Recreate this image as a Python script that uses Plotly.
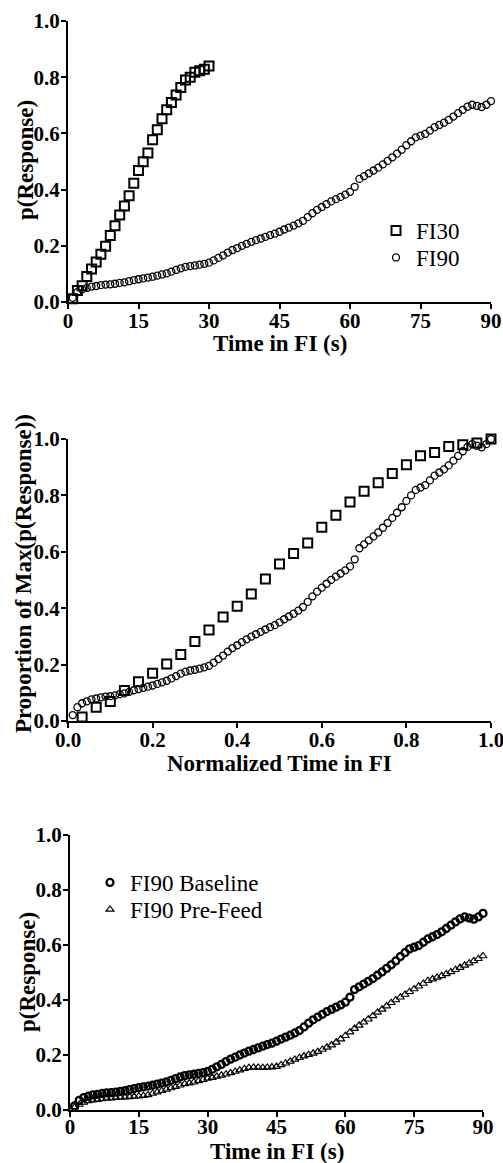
import plotly.graph_objects as go

# ---------------- data ----------------
t30 = list(range(1, 31))
fi30 = [0.012, 0.041, 0.058, 0.091, 0.117, 0.142, 0.170, 0.198, 0.237, 0.271,
        0.310, 0.342, 0.378, 0.423, 0.468, 0.499, 0.530, 0.577, 0.613, 0.652,
        0.684, 0.710, 0.737, 0.763, 0.790, 0.800, 0.818, 0.823, 0.828, 0.840]

t90 = list(range(1, 91))
fi90 = [0.015, 0.035, 0.045, 0.050, 0.055, 0.057, 0.060, 0.062, 0.063, 0.065,
        0.068, 0.070, 0.074, 0.078, 0.081, 0.084, 0.087, 0.090, 0.094, 0.098,
        0.102, 0.108, 0.114, 0.120, 0.125, 0.128, 0.130, 0.133, 0.136, 0.140,
        0.148, 0.157, 0.166, 0.176, 0.185, 0.192, 0.200, 0.207, 0.214, 0.220,
        0.226, 0.232, 0.238, 0.243, 0.250, 0.258, 0.265, 0.272, 0.280, 0.289,
        0.302, 0.316, 0.328, 0.338, 0.348, 0.358, 0.366, 0.374, 0.382, 0.392,
        0.410, 0.438, 0.448, 0.458, 0.468, 0.478, 0.490, 0.502, 0.515, 0.528,
        0.542, 0.558, 0.572, 0.586, 0.592, 0.598, 0.610, 0.622, 0.630, 0.638,
        0.648, 0.660, 0.672, 0.684, 0.695, 0.702, 0.698, 0.694, 0.702, 0.715]

prefeed = [0.010, 0.020, 0.028, 0.033, 0.036, 0.038, 0.040, 0.042, 0.043, 0.045,
           0.046, 0.047, 0.048, 0.049, 0.050, 0.052, 0.055, 0.060, 0.065, 0.070,
           0.075, 0.080, 0.085, 0.090, 0.095, 0.098, 0.101, 0.106, 0.110, 0.115,
           0.118, 0.122, 0.126, 0.130, 0.135, 0.140, 0.145, 0.150, 0.154, 0.155,
           0.155, 0.154, 0.155, 0.156, 0.158, 0.164, 0.170, 0.177, 0.184, 0.190,
           0.196, 0.201, 0.206, 0.212, 0.220, 0.228, 0.236, 0.246, 0.258, 0.270,
           0.283, 0.296, 0.308, 0.319, 0.330, 0.342, 0.355, 0.366, 0.378, 0.390,
           0.400, 0.410, 0.420, 0.430, 0.440, 0.450, 0.460, 0.470, 0.476, 0.482,
           0.488, 0.495, 0.502, 0.510, 0.518, 0.526, 0.534, 0.542, 0.550, 0.560]

sec_ticks = [0, 15, 30, 45, 60, 75, 90]
frac_ticks = [0.0, 0.2, 0.4, 0.6, 0.8, 1.0]

# normalized versions (middle panel)
n30_x = [t / 30 for t in t30]
n30_y = [v / max(fi30) for v in fi30]
n90_x = [t / 90 for t in t90]
n90_y = [v / max(fi90) for v in fi90]

# ---------------- figure ----------------
W, H = 503, 1163
FONT = "Liberation Serif, Times New Roman, serif"

def px_x(p):
    return p / W

def px_y(p):
    return (H - p) / H

fig = go.Figure()

# top panel
fig.add_trace(go.Scatter(x=t30, y=fi30, mode="markers", name="FI30",
                         marker=dict(symbol="square-open", size=9, color="black",
                                     line=dict(width=2, color="black")),
                         xaxis="x", yaxis="y", legend="legend", cliponaxis=False))
fig.add_trace(go.Scatter(x=t90, y=fi90, mode="markers", name="FI90",
                         marker=dict(symbol="circle-open", size=7, color="black",
                                     line=dict(width=1.3, color="black")),
                         xaxis="x", yaxis="y", legend="legend3", cliponaxis=False))
# middle panel
fig.add_trace(go.Scatter(x=n30_x, y=n30_y, mode="markers", showlegend=False,
                         marker=dict(symbol="square-open", size=9, color="black",
                                     line=dict(width=2, color="black")),
                         xaxis="x2", yaxis="y2", cliponaxis=False))
fig.add_trace(go.Scatter(x=n90_x, y=n90_y, mode="markers", showlegend=False,
                         marker=dict(symbol="circle-open", size=7, color="black",
                                     line=dict(width=1.3, color="black")),
                         xaxis="x2", yaxis="y2", cliponaxis=False))
# bottom panel
fig.add_trace(go.Scatter(x=t90, y=fi90, mode="markers", name="FI90 Baseline",
                         marker=dict(symbol="circle-open", size=7, color="black",
                                     line=dict(width=2.3, color="black")),
                         xaxis="x3", yaxis="y3", legend="legend2", cliponaxis=False))
fig.add_trace(go.Scatter(x=t90, y=prefeed, mode="markers", name="FI90 Pre-Feed",
                         marker=dict(symbol="triangle-up-open", size=7, color="black",
                                     line=dict(width=1.2, color="black")),
                         xaxis="x3", yaxis="y3", legend="legend4", cliponaxis=False))

tickfont = dict(family=FONT, size=21, color="black", weight="bold")

def axis(domain, rng, tickvals, fmt, anchor, standoff):
    return dict(domain=domain, range=rng, tickvals=tickvals, tickformat=fmt,
                showline=True, linecolor="black", linewidth=2,
                ticks="outside", ticklen=5, tickwidth=2, tickcolor="black",
                showgrid=False, zeroline=False, tickfont=tickfont,
                ticklabelstandoff=standoff, ticklabeloverflow="allow",
                anchor=anchor, automargin=False, fixedrange=True)

xd_top = [px_x(68), px_x(491)]
xd_bot = [px_x(70), px_x(483)]
yd_top = [px_y(302), px_y(21)]
yd_mid = [px_y(721), px_y(439)]
yd_bot = [px_y(1110), px_y(835)]

legfont = dict(family=FONT, size=23, color="black")

def leg(xp, row_center):
    return dict(x=px_x(xp), y=px_y(row_center - 22), xanchor="left", yanchor="top",
                font=legfont, bgcolor="rgba(0,0,0,0)", borderwidth=0,
                tracegroupgap=0)

fig.update_layout(
    width=W, height=H,
    margin=dict(l=0, r=0, t=0, b=0),
    paper_bgcolor="white", plot_bgcolor="white",
    xaxis=axis(xd_top, [0, 90], sec_ticks, "d", "y", -6),
    yaxis=axis(yd_top, [0, 1], frac_ticks, ".1f", "x", -3),
    xaxis2=axis(xd_top, [0, 1], frac_ticks, ".1f", "y2", -6),
    yaxis2=axis(yd_mid, [0, 1], frac_ticks, ".1f", "x2", -3),
    xaxis3=axis(xd_bot, [0, 90], sec_ticks, "d", "y3", -8),
    yaxis3=axis(yd_bot, [0, 1], frac_ticks, ".1f", "x3", -3),
    legend=leg(376, 231),
    legend3=leg(376, 258),
    legend2=leg(90, 883),
    legend4=leg(90, 910),
)

titlefont = dict(family=FONT, size=23, color="black", weight="bold")
annos = [
    ("Time in FI (s)", 279.5, 343, 0),
    ("p(Response)", 26, 160, -90),
    ("Normalized Time in FI", 279.5, 763, 0),
    ("Proportion of Max(p(Response))", 23, 574, -90),
    ("Time in FI (s)", 276.5, 1151, 0),
    ("p(Response)", 27, 972, -90),
]
for text, x, y, ang in annos:
    fig.add_annotation(text=text, x=px_x(x), y=px_y(y), xref="paper", yref="paper",
                       xanchor="center", yanchor="middle", showarrow=False,
                       textangle=ang, font=titlefont)

fig.write_html("out.html",
               config={"displayModeBar": False},
               post_script="document.body.style.margin='0';document.body.style.overflow='hidden';")
